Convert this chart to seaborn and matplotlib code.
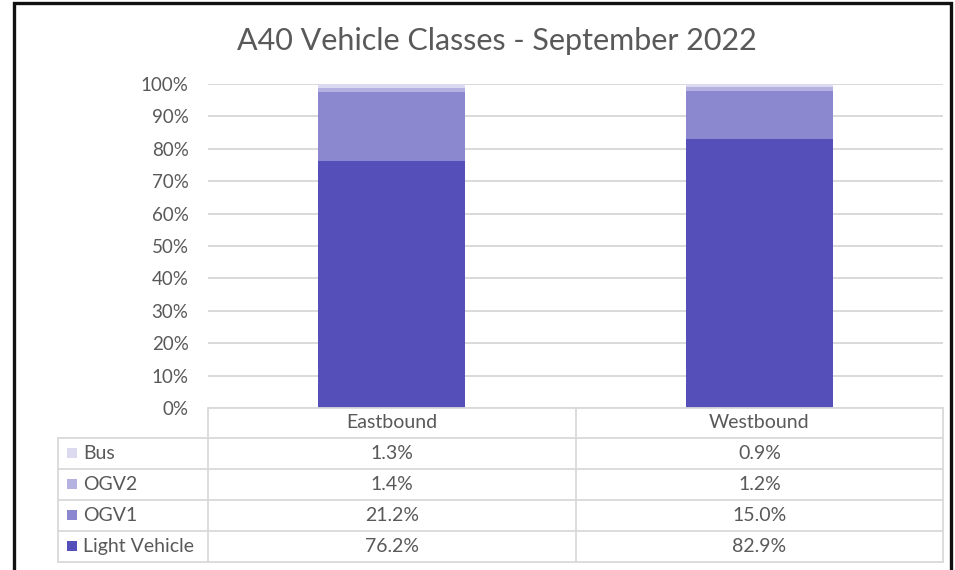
import numpy as np
import matplotlib
matplotlib.use('Agg')
import matplotlib.pyplot as plt
import seaborn as sns
from matplotlib.patches import Rectangle
from matplotlib.ticker import PercentFormatter

# Data (share of traffic, %)
directions = ['Eastbound', 'Westbound']
classes = ['Bus', 'OGV2', 'OGV1', 'Light Vehicle']
bus = [1.3, 0.9]
ogv2 = [1.4, 1.2]
ogv1 = [21.2, 15.0]
light_vehicle = [76.2, 82.9]
class_colors = {'Light Vehicle': '#554fba', 'OGV1': '#8c88d0',
                'OGV2': '#b5b2e2', 'Bus': '#dcdaf0'}

values = {'Bus': bus, 'OGV2': ogv2, 'OGV1': ogv1, 'Light Vehicle': light_vehicle}

sns.set_theme(style='white')
plt.rcParams['font.family'] = ['Lato', 'DejaVu Sans']
text_col = '#595959'
grid_col = '#d9d9d9'

W, H = 955, 570
fig = plt.figure(figsize=(W / 100, H / 100), dpi=100)

def px_axes(x0, y0, x1, y1):
    # axes from pixel box (top-left origin)
    return fig.add_axes([x0 / W, 1 - y1 / H, (x1 - x0) / W, (y1 - y0) / H])

# Stacked bars
ax = px_axes(208, 84, 943, 408)
bottom = np.zeros(len(directions))
for cls in ['Light Vehicle', 'OGV1', 'OGV2', 'Bus']:
    vals = np.array(values[cls])
    sns.barplot(x=directions, y=vals, bottom=bottom, color=class_colors[cls],
                width=0.4, linewidth=0, saturation=1, ax=ax)
    bottom += vals
ax.set_xlim(-0.5, len(directions) - 0.5)
ax.set_ylim(0, 100)
ax.set_yticks(np.arange(0, 101, 10))
ax.yaxis.set_major_formatter(PercentFormatter(decimals=0))
ax.grid(axis='y', color=grid_col, linewidth=1.4)
ax.set_axisbelow(True)
ax.set_xticks([])
ax.tick_params(axis='y', length=0, pad=14, labelsize=13.5, labelcolor=text_col)
for s in ax.spines.values():
    s.set_visible(False)
ax.set_xlabel('')
ax.set_ylabel('')

# Data table below the plot
tx0, tx1, ty0, ty1 = 58, 943, 408, 562
tab = px_axes(tx0, ty0, tx1, ty1)
tab.set_xlim(tx0, tx1)
tab.set_ylim(ty1, ty0)
tab.axis('off')
col_x = [208, 576, 943]
row_y = [408, 438, 469, 500, 531, 562]
lw = 1.3
tab.plot([208, 943], [408, 408], color=grid_col, lw=lw, clip_on=False)
for y in row_y[1:]:
    tab.plot([tx0, tx1], [y, y], color=grid_col, lw=lw, clip_on=False)
for x in col_x:
    tab.plot([x, x], [408, 562], color=grid_col, lw=lw, clip_on=False)
tab.plot([tx0, tx0], [438, 562], color=grid_col, lw=lw, clip_on=False)

fs = 14
centers = [(col_x[i] + col_x[i + 1]) / 2 for i in range(len(directions))]
for c, d in zip(centers, directions):
    tab.text(c, (row_y[0] + row_y[1]) / 2, d, ha='center', va='center',
             fontsize=fs, color=text_col)
for r, cls in enumerate(classes):
    yc = (row_y[r + 1] + row_y[r + 2]) / 2
    tab.add_patch(Rectangle((67, yc - 5), 10, 10, color=class_colors[cls], lw=0))
    tab.text(83, yc, cls, ha='left', va='center', fontsize=fs, color=text_col)
    for c, v in zip(centers, values[cls]):
        tab.text(c, yc, f'{v:.1f}%', ha='center', va='center',
                 fontsize=fs, color=text_col)

fig.text(497 / W, 1 - 41 / H, 'A40 Vehicle Classes - September 2022',
         ha='center', va='center', fontsize=22, color=text_col)

# outer frame
fig.patches.append(Rectangle((14 / W, -0.05), 937 / W, 1 - 3 / H + 0.05,
                             transform=fig.transFigure, fill=False,
                             edgecolor='#111111', lw=2.4))

fig.savefig('out.png', dpi=100)
